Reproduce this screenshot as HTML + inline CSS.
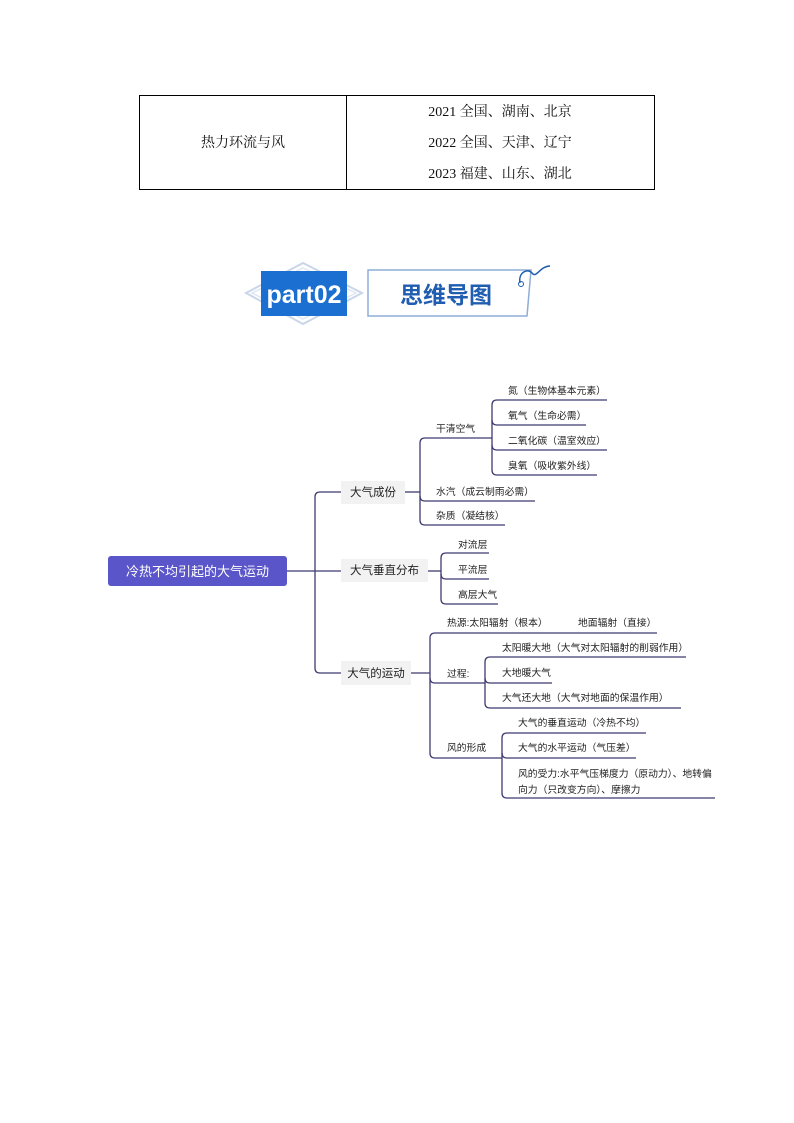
<!DOCTYPE html>
<html><head><meta charset="utf-8"><style>
html,body{margin:0;padding:0;background:#fff}
svg{display:block}
text{font-family:"Liberation Sans","Noto Sans CJK SC",sans-serif;fill:#222}
.t{font-family:"Liberation Serif","Noto Serif CJK SC",serif;font-size:14px;fill:#111}
.l{font-size:9.8px}
.m{font-size:11.5px}
</style></head><body>
<svg width="794" height="1123" viewBox="0 0 794 1123" xmlns="http://www.w3.org/2000/svg">
<rect x="139.5" y="95.5" width="515" height="94" fill="none" stroke="#000" stroke-width="1"/>
<line x1="346.5" y1="95" x2="346.5" y2="189" stroke="#000"/>
<text class="t" x="243" y="147" text-anchor="middle">热力环流与风</text>
<text class="t" x="500" y="116" text-anchor="middle">2021 全国、湖南、北京</text>
<text class="t" x="500" y="147" text-anchor="middle">2022 全国、天津、辽宁</text>
<text class="t" x="500" y="178" text-anchor="middle">2023 福建、山东、湖北</text>

<polygon points="246,293 303,263 362,293 303,324" fill="none" stroke="#c9d6e8" stroke-width="2"/>
<polygon points="252,293 303,268 356,293 303,319" fill="none" stroke="#dfe7f2" stroke-width="1.5"/>
<rect x="261" y="271" width="86" height="45" fill="#1a6fd0"/>
<text x="304" y="303" text-anchor="middle" style="font-size:25px;font-weight:bold;fill:#fff">part02</text>
<polygon points="368,270 531,270 527,316 368,316" fill="#fff" stroke="#8eaed6" stroke-width="1.5"/>
<text x="446" y="303" text-anchor="middle" style="font-size:23px;font-weight:bold;fill:#1f5db0">思维导图</text>
<path d="M520,283 C518,272 528,268 532,273 C536,279 540,266 550,266" fill="none" stroke="#1f5db0" stroke-width="1.5"/>
<circle cx="521" cy="284" r="2.5" fill="none" stroke="#1f5db0" stroke-width="1"/>

<g fill="none" stroke="#3f3b70" stroke-width="1.3">
<path d="M287,571 H341"/>
<path d="M341,492 H320 Q315,492 315,497 V668 Q315,673 320,673 H341"/>
<path d="M405,492 H420"/>
<path d="M492,438 H425 Q420,438 420,443 V520 Q420,525 425,525 H505"/>
<path d="M420,496 Q420,501 425,501 H535"/>
<path d="M607,400 H497 Q492,400 492,405 V470 Q492,475 497,475 H597"/>
<path d="M492,420 Q492,425 497,425 H586"/>
<path d="M492,445 Q492,450 497,450 H607"/>
<path d="M428,571 H441"/>
<path d="M489,553 H446 Q441,553 441,558 V599 Q441,604 446,604 H498"/>
<path d="M441,574 Q441,579 446,579 H489"/>
<path d="M411,673 H430"/>
<path d="M657,633 H435 Q430,633 430,638 V753 Q430,758 435,758 H502"/>
<path d="M430,678 Q430,683 435,683 H485"/>
<path d="M686,657 H490 Q485,657 485,662 V703 Q485,708 490,708 H681"/>
<path d="M485,678 Q485,683 490,683 H552"/>
<path d="M646,733 H507 Q502,733 502,738 V793 Q502,798 507,798 H715"/>
<path d="M502,753 Q502,758 507,758 H636"/>
</g>

<rect x="108" y="556" width="179" height="30" rx="3" fill="#5a55c9"/>
<text x="197.5" y="576" text-anchor="middle" style="font-size:13px;fill:#fff">冷热不均引起的大气运动</text>
<rect x="341" y="481" width="64" height="23" fill="#f2f2f2"/>
<text class="m" x="373" y="496" text-anchor="middle">大气成份</text>
<rect x="341" y="559" width="87" height="23" fill="#f2f2f2"/>
<text class="m" x="384.5" y="574" text-anchor="middle">大气垂直分布</text>
<rect x="341" y="661" width="70" height="24" fill="#f2f2f2"/>
<text class="m" x="376" y="677" text-anchor="middle">大气的运动</text>

<g>
<text class="l" x="436" y="432">干清空气</text>
<text class="l" x="436" y="495">水汽（成云制雨必需）</text>
<text class="l" x="436" y="519">杂质（凝结核）</text>
<text class="l" x="508" y="394">氮（生物体基本元素）</text>
<text class="l" x="508" y="419">氧气（生命必需）</text>
<text class="l" x="508" y="444">二氧化碳（温室效应）</text>
<text class="l" x="508" y="469">臭氧（吸收紫外线）</text>
<text class="l" x="458" y="548">对流层</text>
<text class="l" x="458" y="573">平流层</text>
<text class="l" x="458" y="598">高层大气</text>
<text class="l" x="447" y="626">热源:太阳辐射（根本）</text>
<text class="l" x="578" y="626">地面辐射（直接）</text>
<text class="l" x="447" y="677">过程:</text>
<text class="l" x="502" y="651">太阳暖大地（大气对太阳辐射的削弱作用）</text>
<text class="l" x="502" y="676">大地暖大气</text>
<text class="l" x="502" y="701">大气还大地（大气对地面的保温作用）</text>
<text class="l" x="447" y="751">风的形成</text>
<text class="l" x="518" y="726">大气的垂直运动（冷热不均）</text>
<text class="l" x="518" y="751">大气的水平运动（气压差）</text>
<text class="l" x="518" y="777">风的受力:水平气压梯度力（原动力）、地转偏</text>
<text class="l" x="518" y="793">向力（只改变方向）、摩擦力</text>
</g>
</svg>
</body></html>
